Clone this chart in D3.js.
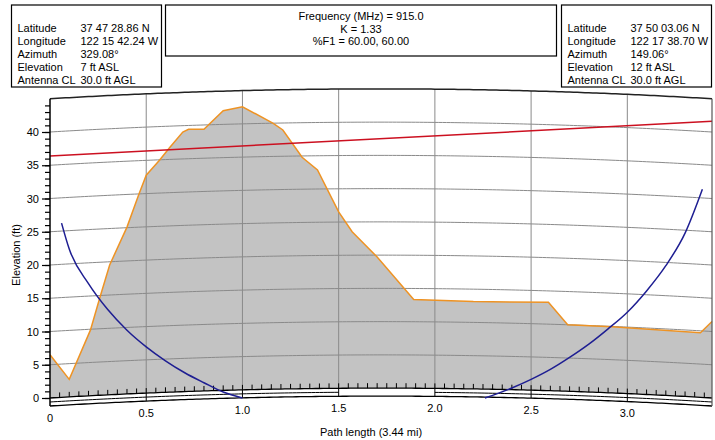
<!DOCTYPE html>
<html>
<head>
<meta charset="utf-8">
<script src="https://cdnjs.cloudflare.com/ajax/libs/d3/7.8.5/d3.min.js"></script>
<style>
  body { margin: 0; background: #fff; }
  svg text { font-family: "Liberation Sans", Arial, sans-serif; font-size: 11px; fill: #000; }
</style>
</head>
<body>
<script>
"use strict";

// path settings (from the header)
const pathLength = 3.44;   // mi
const kFactor = 1.33;

const xTicks = [0, 0.5, 1.0, 1.5, 2.0, 2.5, 3.0];
const yTicks = [0, 5, 10, 15, 20, 25, 30, 35, 40];
const gridLevels = [5, 10, 15, 20, 25, 30, 35, 40];
const topLevel = 45;

// terrain profile as drawn: [distance mi, elevation ft]
const terrain = [
    [0.00, 6.5], [0.10, 2.8], [0.21, 10.2], [0.26, 15.2], [0.31, 20.0],
    [0.40, 25.7], [0.46, 30.5], [0.50, 33.5], [0.57, 35.8], [0.62, 37.6],
    [0.69, 40.0], [0.72, 40.4], [0.80, 40.4], [0.90, 43.2], [1.00, 43.8],
    [1.16, 41.3], [1.21, 40.3], [1.31, 36.2], [1.39, 34.3], [1.50, 28.0],
    [1.57, 25.0], [1.70, 21.2], [1.89, 14.8], [2.20, 14.5], [2.59, 14.4],
    [2.69, 11.0], [2.92, 10.7], [3.38, 9.8], [3.44, 11.5]
];

// line of sight between antennas
const lineOfSight = [[0, 36.4], [3.44, 41.6]];

// lower edge of 60% first Fresnel zone
const fresnelLeft = [
    [0.06, 26.3], [0.10, 22.4], [0.20, 17.2], [0.30, 13.3], [0.40, 10.2],
    [0.50, 7.7], [0.60, 5.6], [0.70, 3.8], [0.80, 2.3], [0.90, 0.9], [1.00, 0.0]
];
const fresnelRight = [
    [2.26, 0.0], [2.30, 0.4], [2.40, 1.5], [2.50, 2.8], [2.60, 4.3],
    [2.70, 6.1], [2.80, 8.1], [2.90, 10.4], [3.00, 12.9], [3.10, 16.1],
    [3.20, 19.9], [3.30, 24.8], [3.39, 31.4]
];

const siteA = [
    ["Latitude", "37 47 28.86 N"], ["Longitude", "122 15 42.24 W"],
    ["Azimuth", "329.08°"], ["Elevation", "7 ft ASL"], ["Antenna CL", "30.0 ft AGL"]
];
const siteB = [
    ["Latitude", "37 50 03.06 N"], ["Longitude", "122 17 38.70 W"],
    ["Azimuth", "149.06°"], ["Elevation", "12 ft ASL"], ["Antenna CL", "30.0 ft AGL"]
];
const linkInfo = ["Frequency (MHz) = 915.0", "K = 1.33", "%F1 = 60.00, 60.00"];

const width = 715, height = 440;

const x = d3.scaleLinear().domain([0, pathLength]).range([50, 712]);
const y = d3.scaleLinear().domain([0, topLevel]).range([398, 398 - topLevel * 6.65]);

// earth bulge in ft for the curved grid
const bulge = d => d * (pathLength - d) / (1.5 * kFactor);
const steps = d3.range(0, pathLength, 0.02).concat([pathLength]);
const curve = (level, from = 0, to = pathLength) =>
    steps.filter(d => d >= from && d <= to)
         .concat([from, to])
         .sort((a, b) => a - b)
         .map(d => [x(d), y(level + bulge(d))]);

const line = d3.line();
const dataLine = d3.line().x(d => x(d[0])).y(d => y(d[1]));

const svg = d3.select("body").append("svg")
              .attr("width", width)
              .attr("height", height);

// header boxes
const infoBox = (x0, rows) => {
    const g = svg.append("g");
    g.append("rect")
     .attr("x", x0).attr("y", 5).attr("width", 150).attr("height", 82)
     .attr("fill", "none").attr("stroke", "#000").attr("stroke-width", 1.2);
    rows.forEach((r, i) => {
        g.append("text").attr("x", x0 + 6).attr("y", 32 + i * 13).text(r[0]);
        g.append("text").attr("x", x0 + 69).attr("y", 32 + i * 13).text(r[1]);
    });
};
infoBox(11.5, siteA);
infoBox(561.5, siteB);

svg.append("rect")
   .attr("x", 165.5).attr("y", 5).attr("width", 391).attr("height", 51)
   .attr("fill", "none").attr("stroke", "#000").attr("stroke-width", 1.2);
svg.append("g").selectAll("text")
   .data(linkInfo)
   .join("text")
   .attr("x", 361).attr("y", (d, i) => 20 + i * 12.5)
   .attr("text-anchor", "middle")
   .text(d => d);

// terrain fill down to the curved zero line
const ground = terrain.map(d => [x(d[0]), y(d[1])])
                      .concat(curve(0).reverse());
svg.append("path")
   .attr("d", line(ground) + "Z")
   .attr("fill", "#c3c3c3");

// curved elevation grid
svg.append("g")
   .selectAll("path")
   .data(gridLevels)
   .join("path")
   .attr("d", l => line(curve(l)))
   .attr("fill", "none")
   .attr("stroke", "#8a8a8a")
   .attr("stroke-width", 1);

// vertical grid
svg.append("g")
   .selectAll("line")
   .data(xTicks.slice(1))
   .join("line")
   .attr("x1", d => x(d)).attr("x2", d => x(d))
   .attr("y1", d => y(bulge(d))).attr("y2", d => y(topLevel + bulge(d)))
   .attr("stroke", "#8a8a8a");

// top frame curve
svg.append("path")
   .attr("d", line(curve(topLevel)))
   .attr("fill", "none")
   .attr("stroke", "#222")
   .attr("stroke-width", 1.5);

// distance scale band below the zero line
const band = svg.append("g").attr("fill", "none").attr("stroke", "#000");
band.append("path").attr("d", line(curve(0))).attr("stroke-width", 1.3);
band.append("path").attr("d", line(curve(-1.2))).attr("stroke-width", 1.3);
[[0, 1.5], [2.0, pathLength]].forEach(s => {
    band.append("path").attr("d", line(curve(-0.6, s[0], s[1])));
});
band.selectAll("line.sep")
    .data(xTicks.slice(1))
    .join("line")
    .attr("class", "sep")
    .attr("x1", d => x(d)).attr("x2", d => x(d))
    .attr("y1", d => y(bulge(d))).attr("y2", d => y(-1.2 + bulge(d)));
band.selectAll("line.tk")
    .data(d3.range(1, 69).map(i => i * 0.05))
    .join("line")
    .attr("class", "tk")
    .attr("x1", d => x(d)).attr("x2", d => x(d))
    .attr("y1", d => y(bulge(d))).attr("y2", d => y(bulge(d)) - 5);

// terrain outline
svg.append("path")
   .attr("d", dataLine(terrain))
   .attr("fill", "none")
   .attr("stroke", "#ee9324")
   .attr("stroke-width", 1.5);

// line of sight
svg.append("path")
   .attr("d", dataLine(lineOfSight))
   .attr("fill", "none")
   .attr("stroke", "#cc1020")
   .attr("stroke-width", 1.5);

// fresnel clearance
svg.append("g")
   .selectAll("path")
   .data([fresnelLeft, fresnelRight])
   .join("path")
   .attr("d", dataLine.curve(d3.curveMonotoneX))
   .attr("fill", "none")
   .attr("stroke", "#1e1e92")
   .attr("stroke-width", 1.5);

// left and right frame edges
svg.append("line")
   .attr("x1", x(0)).attr("x2", x(0))
   .attr("y1", y(topLevel)).attr("y2", y(-1.2))
   .attr("stroke", "#000").attr("stroke-width", 1.5);
svg.append("line")
   .attr("x1", x(pathLength)).attr("x2", x(pathLength))
   .attr("y1", y(topLevel)).attr("y2", y(-1.2))
   .attr("stroke", "#555").attr("stroke-width", 1.2);

// y axis: minor and major ticks
svg.append("g")
   .attr("transform", `translate(${x(0)},0)`)
   .call(d3.axisLeft(y).tickValues(d3.range(0, 45)).tickSize(5).tickFormat(""))
   .call(g => g.select(".domain").remove())
   .call(g => g.selectAll("line").attr("stroke-width", 1.2));
svg.append("g")
   .attr("transform", `translate(${x(0)},0)`)
   .call(d3.axisLeft(y).tickValues(yTicks).tickSize(8).tickPadding(3))
   .call(g => g.select(".domain").remove())
   .call(g => g.selectAll("line").attr("stroke-width", 1.2))
   .call(g => g.selectAll("text").style("font-size", "11px").style("font-family", null));

// x axis labels follow the curved bottom
svg.append("g")
   .call(d3.axisBottom(x).tickValues(xTicks).tickSize(0).tickPadding(0)
           .tickFormat(d => d === 0 ? "0" : d3.format(".1f")(d)))
   .call(g => g.select(".domain").remove())
   .call(g => g.selectAll("text").style("font-size", "11px").style("font-family", null))
   .selectAll(".tick")
   .attr("transform", d => `translate(${x(d)},${y(-1.2 + bulge(d)) + 8})`);

// axis titles
svg.append("text")
   .attr("x", 371).attr("y", 436)
   .attr("text-anchor", "middle")
   .text("Path length (3.44 mi)");
svg.append("text")
   .attr("transform", "translate(20,255) rotate(-90)")
   .attr("text-anchor", "middle")
   .text("Elevation (ft)");
</script>
</body>
</html>
